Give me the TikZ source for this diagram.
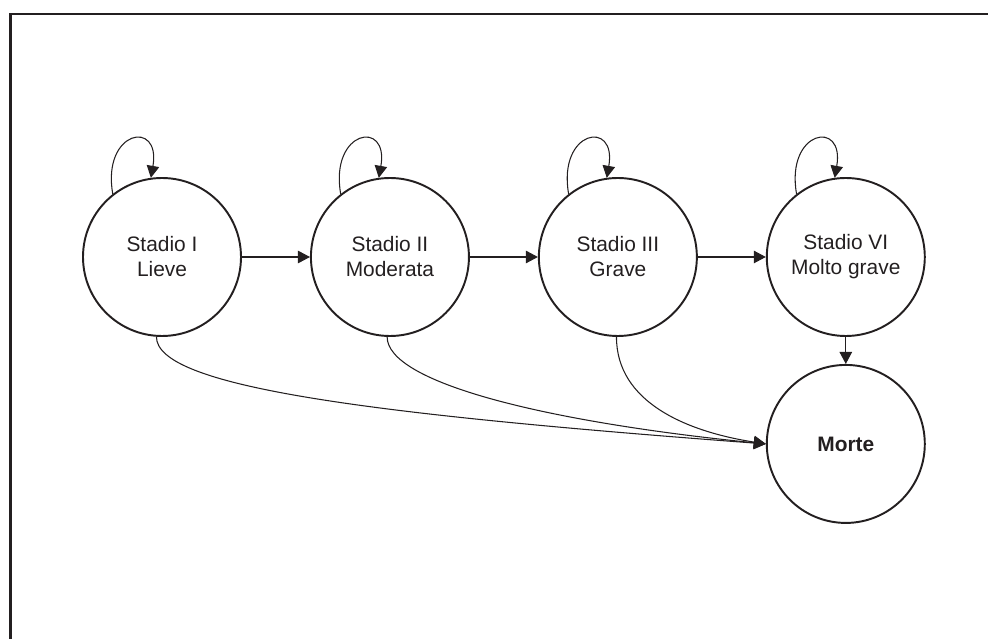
\documentclass[tikz,border=0pt]{standalone}
\usepackage{fontspec}
\setmainfont{Liberation Sans}
\usetikzlibrary{arrows.meta,positioning}
\definecolor{stadink}{HTML}{231F20}
\tikzset{
  stadio/.style={circle, draw=stadink, line width=1.1pt, minimum size=3.16cm, inner sep=0pt, align=center, text=stadink, font=\fontsize{11.9}{14.2}\selectfont},
  flow/.style={-{Triangle[length=2.4mm, width=2.5mm]}, line width=0.6pt, draw=stadink},
  frame/.style={line width=1.7pt, draw=stadink}
}

\begin{document}
\begin{tikzpicture}
  \useasboundingbox (0,0) rectangle (19.76,12.78);
  \draw[frame] (0.213,0) |- (19.76,12.5);
  \node[stadio] (s1) at (3.24,7.64) {Stadio I\\Lieve};
  \node[stadio, right=1.36cm of s1] (s2) {Stadio II\\Moderata};
  \node[stadio, right=1.36cm of s2] (s3) {Stadio III\\Grave};
  \node[stadio, right=1.36cm of s3] (s4) {Stadio VI\\Molto grave};
  \node[stadio, below=0.54cm of s4] (morte) {\bfseries Morte};
  \draw[flow] (s1) -- (s2);
  \draw[flow] (s2) -- (s3);
  \draw[flow] (s3) -- (s4);
  \draw[flow] (s4) -- (morte);
  \draw[flow] (s1.128) .. controls +(100:1.3) and +(80:1.2) .. (s1.98);
  \draw[flow] (s2.128) .. controls +(100:1.3) and +(80:1.2) .. (s2.98);
  \draw[flow] (s3.128) .. controls +(100:1.3) and +(80:1.2) .. (s3.98);
  \draw[flow] (s4.128) .. controls +(100:1.3) and +(80:1.2) .. (s4.98);
  \draw[flow] (s1.266) .. controls +(0,-1) and +(-8,0.6) .. (morte.west);
  \draw[flow] (s2.268) .. controls +(0,-0.9) and +(-4.5,0.45) .. (morte.west);
  \draw[flow] (s3.269) .. controls +(0,-1.3) and +(-1.6,0.25) .. (morte.west);
\end{tikzpicture}
\end{document}
